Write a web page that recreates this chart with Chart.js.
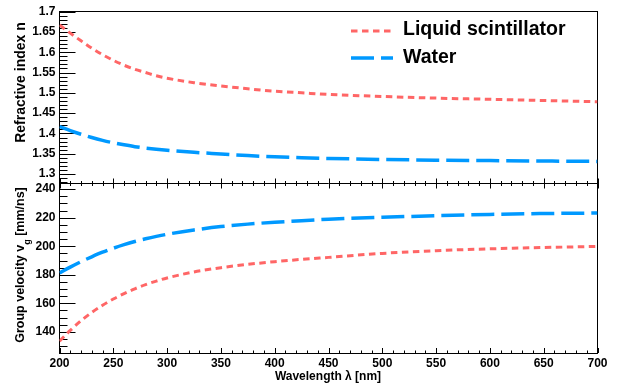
<!DOCTYPE html>
<html>
<head>
<meta charset="UTF-8">
<title>Refractive index and group velocity</title>
<script src="https://cdn.jsdelivr.net/npm/chart.js"></script>
<style>
  html, body { margin: 0; padding: 0; background: #fff; }
</style>
</head>
<body>
<canvas id="grafico" width="627" height="392"></canvas>
<script>
  // wavelength grid [nm]
  var lambda = [200, 210, 220, 230, 240, 250, 260, 270, 280, 290, 300, 325, 350, 375, 400, 425, 450, 500, 550, 600, 650, 700];

  // refractive index
  var nScint = [1.667, 1.647, 1.628, 1.610, 1.594, 1.580, 1.568, 1.558, 1.550, 1.542, 1.536, 1.525, 1.517, 1.510, 1.504, 1.500, 1.496, 1.491, 1.487, 1.484, 1.481, 1.478];
  var nWater = [1.417, 1.407, 1.398, 1.390, 1.383, 1.377, 1.372, 1.3675, 1.364, 1.361, 1.3585, 1.3535, 1.3495, 1.3455, 1.3425, 1.3402, 1.3385, 1.336, 1.3343, 1.3331, 1.3321, 1.3312];

  // group velocity [mm/ns]
  var vScint = [133.5, 141, 147.8, 153.6, 158.6, 163, 166.8, 170.2, 173.1, 175.6, 177.8, 182, 185, 187.3, 189.2, 190.8, 192.2, 195, 196.9, 198.2, 199.1, 199.9];
  var vWater = [181.3, 185.4, 189.2, 192.6, 195.8, 198.6, 201.1, 203.3, 205.2, 206.9, 208.4, 211.4, 213.8, 215.5, 216.8, 217.9, 218.9, 220.3, 221.4, 222.3, 222.9, 223.3];

  // tick values and labels
  var xTicks = [200, 250, 300, 350, 400, 450, 500, 550, 600, 650, 700];
  var nTicks = [1.3, 1.35, 1.4, 1.45, 1.5, 1.55, 1.6, 1.65, 1.7];
  var nTickLabels = ['1.3', '1.35', '1.4', '1.45', '1.5', '1.55', '1.6', '1.65', '1.7'];
  var vTicks = [140, 160, 180, 200, 220, 240];

  var corLS = '#ff6666';
  var corAgua = '#0099ff';
  var fonte = '"Liberation Sans", Arial, sans-serif';

  function pontos(ys) {
    return lambda.map(function (x, i) { return { x: x, y: ys[i] }; });
  }

  function fixarTicks(valores) {
    return function (escala) {
      escala.ticks = valores.map(function (v) { return { value: v }; });
    };
  }

  function linha(ctx, x1, y1, x2, y2) {
    ctx.beginPath();
    ctx.moveTo(x1, y1);
    ctx.lineTo(x2, y2);
    ctx.stroke();
  }

  // frame, divider and inner tick marks (major + minor)
  var moldura = {
    id: 'moldura',
    beforeDatasetsDraw: function (chart) {
      var ctx = chart.ctx, a = chart.chartArea, s = chart.scales;
      var meio = Math.round(s.yN.bottom) + 0.5;
      ctx.save();
      ctx.strokeStyle = '#000';
      ctx.lineWidth = 1;
      ctx.strokeRect(a.left, Math.round(a.top) + 0.5, a.right - a.left, Math.round(a.bottom) - Math.round(a.top));
      linha(ctx, a.left, meio, a.right, meio);

      function ticksY(esc, passo, cada) {
        var k0 = Math.ceil(esc.min / passo - 1e-6), k1 = Math.floor(esc.max / passo + 1e-6);
        for (var k = k0; k <= k1; k++) {
          var y = Math.round(esc.getPixelForValue(k * passo)) + 0.5;
          var comp = (k % cada === 0) ? 16 : 8;
          linha(ctx, a.left, y, a.left + comp, y);
        }
      }
      ticksY(s.yN, 0.01, 5);
      ticksY(s.yV, 5, 4);

      for (var w = 200; w <= 700; w += 10) {
        var x = Math.round(s.x.getPixelForValue(w)) + 0.5;
        var comp = (w % 50 === 0) ? 5 : 2.5;
        linha(ctx, x, a.bottom, x, a.bottom - comp);
        linha(ctx, x, meio - comp, x, meio + comp);
      }
      ctx.restore();
    },
    afterDraw: function (chart) {
      var ctx = chart.ctx;
      ctx.save();
      ctx.fillStyle = '#000';
      ctx.textBaseline = 'middle';

      // x title
      ctx.font = 'bold 12px ' + fonte;
      ctx.textAlign = 'center';
      ctx.fillText('Wavelength \u03bb [nm]', 328, 377);

      // y title, upper panel
      ctx.save();
      ctx.translate(21, 82.5);
      ctx.rotate(-Math.PI / 2);
      ctx.font = 'bold 14px ' + fonte;
      ctx.fillText('Refractive index n', 0, 0);
      ctx.restore();

      // y title, lower panel (with subscript g)
      ctx.save();
      ctx.translate(21, 265);
      ctx.rotate(-Math.PI / 2);
      ctx.textAlign = 'left';
      var p1 = 'Group velocity v', p2 = 'g', p3 = ' [mm/ns]';
      ctx.font = 'bold 12.5px ' + fonte;
      var w1 = ctx.measureText(p1).width, w3 = ctx.measureText(p3).width;
      ctx.font = 'bold 9px ' + fonte;
      var w2 = ctx.measureText(p2).width;
      var x0 = -(w1 + w2 + w3) / 2;
      ctx.font = 'bold 12.5px ' + fonte;
      ctx.fillText(p1, x0, 0);
      ctx.fillText(p3, x0 + w1 + w2, 0);
      ctx.font = 'bold 9px ' + fonte;
      ctx.fillText(p2, x0 + w1, 7);
      ctx.restore();

      // legend
      var itens = chart.data.datasets.slice(0, 2);
      itens.forEach(function (ds, i) {
        var y = 31 + i * 27;
        ctx.save();
        ctx.strokeStyle = ds.borderColor;
        ctx.lineWidth = ds.borderWidth;
        ctx.setLineDash(ds.borderDash);
        linha(ctx, 351, y, 393, y);
        ctx.restore();
        ctx.font = 'bold 19.5px ' + fonte;
        ctx.textAlign = 'left';
        ctx.textBaseline = 'alphabetic';
        ctx.fillText(ds.label, 403, 35 + i * 28);
      });
      ctx.restore();
    }
  };

  function serie(label, ys, cor, eixo, tracejado, largura) {
    return {
      label: label,
      data: pontos(ys),
      yAxisID: eixo,
      borderColor: cor,
      backgroundColor: cor,
      borderWidth: largura,
      borderDash: tracejado,
      pointRadius: 0,
      fill: false,
      cubicInterpolationMode: 'monotone'
    };
  }

  var fonteTicks = { family: fonte, size: 12, weight: 'bold' };

  new Chart(document.getElementById('grafico'), {
    type: 'line',
    data: {
      datasets: [
        serie('Liquid scintillator', nScint, corLS, 'yN', [6.5, 4.5], 3),
        serie('Water', nWater, corAgua, 'yN', [23, 7], 3.5),
        serie('Liquid scintillator', vScint, corLS, 'yV', [6.5, 4.5], 3),
        serie('Water', vWater, corAgua, 'yV', [23, 7], 3.5)
      ]
    },
    options: {
      responsive: false,
      animation: false,
      devicePixelRatio: 1,
      layout: { padding: { top: 6, right: 29.5, left: 0, bottom: 0 } },
      plugins: { legend: { display: false }, tooltip: { enabled: false } },
      scales: {
        x: {
          type: 'linear',
          position: 'bottom',
          min: 200,
          max: 700,
          grid: { display: false, drawTicks: false },
          border: { display: false },
          ticks: { font: fonteTicks, color: '#000', padding: 3, autoSkip: false, maxRotation: 0 },
          afterBuildTicks: fixarTicks(xTicks),
          afterFit: function (s) { s.height = 39; }
        },
        yV: {
          type: 'linear',
          position: 'left',
          stack: 'painel',
          stackWeight: 173,
          min: 125.2,
          max: 244.6,
          grid: { display: false, drawTicks: false },
          border: { display: false },
          ticks: { font: fonteTicks, color: '#000', padding: 4, autoSkip: false },
          afterBuildTicks: fixarTicks(vTicks),
          afterFit: function (s) { s.width = 59.5; }
        },
        yN: {
          type: 'linear',
          position: 'left',
          stack: 'painel',
          stackWeight: 174,
          min: 1.279,
          max: 1.701,
          grid: { display: false, drawTicks: false },
          border: { display: false },
          ticks: {
            font: fonteTicks, color: '#000', padding: 4, autoSkip: false,
            callback: function (v, i) { return nTickLabels[i]; }
          },
          afterBuildTicks: fixarTicks(nTicks),
          afterFit: function (s) { s.width = 59.5; }
        }
      }
    },
    plugins: [moldura]
  });
</script>
</body>
</html>
